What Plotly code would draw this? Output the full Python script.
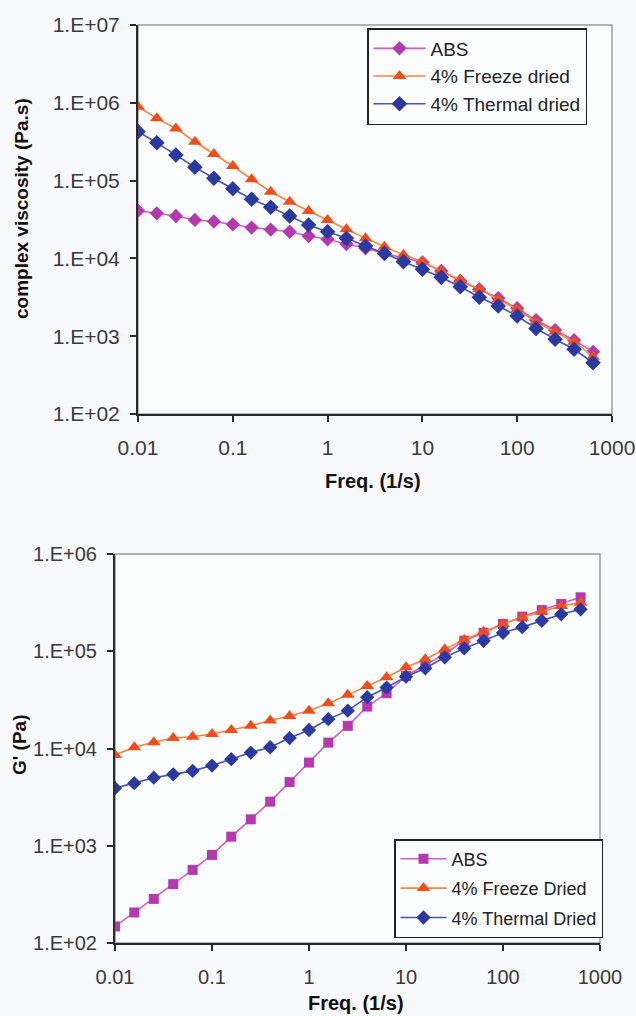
import plotly.graph_objects as go

# ---------------- data ----------------
freq = [0.01, 0.0158, 0.0251, 0.0398, 0.0631, 0.1, 0.158, 0.251, 0.398, 0.631,
        1, 1.58, 2.51, 3.98, 6.31, 10, 15.8, 25.1, 39.8, 63.1,
        100, 158, 251, 398, 631]

# complex viscosity (Pa.s)
visc_abs = [41000, 38000, 35100, 31200, 29800, 27300, 24900, 23500, 22000, 19400,
            17600, 15300, 13500, 11600, 10100, 8900, 6900, 5130, 4010, 3090,
            2290, 1610, 1200, 890, 630]
visc_freeze = [891000, 631000, 468000, 316000, 220000, 154000, 104000, 71900, 53600, 40600,
               31200, 23700, 18100, 14100, 11100, 9080, 6950, 5270, 4010, 2980,
               2220, 1530, 1140, 849, 546]
visc_thermal = [426000, 307000, 213000, 149000, 107000, 78700, 57500, 45400, 35100, 26900,
                22000, 18100, 14400, 11600, 9080, 7240, 5710, 4330, 3160, 2440,
                1820, 1260, 912, 679, 456]

# storage modulus G' (Pa)
g_abs = [148, 206, 284, 403, 565, 805, 1240, 1870, 2840, 4510,
         7160, 11500, 17100, 27000, 37000, 55700, 72300, 93800, 128500, 155000,
         191000, 227000, 265000, 306000, 359000]
g_freeze = [8590, 10300, 11600, 12800, 13200, 14100, 15500, 17100, 19400, 21600,
            24500, 29200, 35600, 44000, 54100, 68500, 82800, 105000, 131000, 159000,
            191000, 223000, 255000, 292000, 316000]
g_thermal = [3910, 4400, 5010, 5420, 5890, 6670, 7760, 9080, 10300, 12800,
             15500, 20000, 24500, 33700, 42300, 54800, 66800, 86700, 107000, 128000,
             155000, 177000, 206000, 240000, 270000]

x_tickvals = [0.01, 0.1, 1, 10, 100, 1000]
x_ticktext = ["0.01", "0.1", "1", "10", "100", "1000"]
y1_tickvals = [1e2, 1e3, 1e4, 1e5, 1e6, 1e7]
y1_ticktext = ["1.E+02", "1.E+03", "1.E+04", "1.E+05", "1.E+06", "1.E+07"]
y2_tickvals = [1e2, 1e3, 1e4, 1e5, 1e6]
y2_ticktext = ["1.E+02", "1.E+03", "1.E+04", "1.E+05", "1.E+06"]

# ---------------- style ----------------
FONT = "Arial, Liberation Sans, sans-serif"
C_ABS_M, C_ABS_L = "#B23AAE", "#CC5FC6"
C_FRZ_M, C_FRZ_L = "#EE4E1C", "#F4873C"
C_THM_M, C_THM_L = "#2C3A9F", "#4453B4"
PAPER = "#f8f9fc"
PLOT = "#fcfdff"
TICKCOL = "#3a3a3a"
W, H = 636, 1016

fig = go.Figure()

def add(x, y, name, mcol, lcol, sym, size, xa, ya, leg, grp):
    fig.add_trace(go.Scatter(
        x=x, y=y, name=name, mode="lines+markers",
        line=dict(color=lcol, width=1.6),
        marker=dict(color=mcol, symbol=sym, size=size, line=dict(width=0)),
        xaxis=xa, yaxis=ya, legend=leg, legendgroup=grp))

add(freq, visc_abs, "ABS", C_ABS_M, C_ABS_L, "diamond", 11, "x", "y", "legend", "a1")
add(freq, visc_freeze, "4% Freeze dried", C_FRZ_M, C_FRZ_L, "triangle-up", 12, "x", "y", "legend", "a2")
add(freq, visc_thermal, "4% Thermal dried", C_THM_M, C_THM_L, "diamond", 12, "x", "y", "legend", "a3")

add(freq, g_abs, "ABS", C_ABS_M, C_ABS_L, "square", 10, "x2", "y2", "legend2", "b1")
add(freq, g_freeze, "4% Freeze Dried", C_FRZ_M, C_FRZ_L, "triangle-up", 12, "x2", "y2", "legend2", "b2")
add(freq, g_thermal, "4% Thermal Dried", C_THM_M, C_THM_L, "diamond", 11, "x2", "y2", "legend2", "b3")

# pixel geometry of the two plot areas
t_l, t_r, t_t, t_b = 138, 612, 25, 414
b_l, b_r, b_t, b_b = 115, 600, 554, 943

def px_x(p):
    return p / W

def px_y(p):
    return 1 - p / H

axis_common = dict(
    type="log", showgrid=False, zeroline=False, showline=True, automargin=False,
    linecolor="#2a2a2a", linewidth=2, ticks="outside", ticklen=6,
    tickwidth=2, tickcolor="#2a2a2a",
    tickfont=dict(family=FONT, size=21, color=TICKCOL),
)

fig.update_layout(
    width=W, height=H,
    margin=dict(l=0, r=0, t=0, b=0, pad=0),
    paper_bgcolor=PAPER, plot_bgcolor=PLOT,
    font=dict(family=FONT),
    xaxis=dict(axis_common, domain=[px_x(t_l), px_x(t_r)], range=[-2, 3],
               tickvals=x_tickvals, ticktext=x_ticktext, anchor="y",
               ticklabelstandoff=8),
    yaxis=dict(axis_common, domain=[px_y(t_b), px_y(t_t)], range=[2, 7],
               tickvals=y1_tickvals, ticktext=y1_ticktext, anchor="x",
               ticklabelstandoff=6),
    xaxis2=dict(axis_common, domain=[px_x(b_l), px_x(b_r)], range=[-2, 3],
                tickvals=x_tickvals, ticktext=x_ticktext, anchor="y2",
                tickfont=dict(family=FONT, size=20, color=TICKCOL),
                ticklabelstandoff=9),
    yaxis2=dict(axis_common, domain=[px_y(b_b), px_y(b_t)], range=[2, 6],
                tickvals=y2_tickvals, ticktext=y2_ticktext, anchor="x2",
                tickfont=dict(family=FONT, size=20, color=TICKCOL),
                ticklabelstandoff=6),
    legend=dict(
        x=px_x(367), y=px_y(28), xanchor="left", yanchor="top",
        bgcolor=PLOT, bordercolor="#222222", borderwidth=1.5,
        font=dict(family=FONT, size=19, color="#222222"),
        tracegroupgap=0, itemwidth=52),
    legend2=dict(
        x=px_x(394), y=px_y(839), xanchor="left", yanchor="top",
        bgcolor=PLOT, bordercolor="#222222", borderwidth=1.5,
        font=dict(family=FONT, size=18, color="#222222"),
        tracegroupgap=3, itemwidth=46),
    showlegend=True,
)

# gray frame (top/right) of each plot area
for xr, yr in (("x domain", "y domain"), ("x2 domain", "y2 domain")):
    fig.add_shape(type="rect", xref=xr, yref=yr, x0=0, x1=1, y0=0, y1=1,
                  line=dict(color="#9a9a9a", width=1.5), layer="below")

# axis titles
fig.add_annotation(text="<b>complex viscosity (Pa.s)</b>", xref="paper", yref="paper",
                   x=px_x(22), y=px_y(209), textangle=-90, showarrow=False,
                   font=dict(family=FONT, size=19, color="#111111"),
                   xanchor="center", yanchor="middle")
fig.add_annotation(text="<b>Freq. (1/s)</b>", xref="paper", yref="paper",
                   x=px_x(373), y=px_y(481), showarrow=False,
                   font=dict(family=FONT, size=20, color="#111111"),
                   xanchor="center", yanchor="middle")
fig.add_annotation(text="<b>G' (Pa)</b>", xref="paper", yref="paper",
                   x=px_x(19), y=px_y(745), textangle=-90, showarrow=False,
                   font=dict(family=FONT, size=19, color="#111111"),
                   xanchor="center", yanchor="middle")
fig.add_annotation(text="<b>Freq. (1/s)</b>", xref="paper", yref="paper",
                   x=px_x(356), y=px_y(1003), showarrow=False,
                   font=dict(family=FONT, size=20, color="#111111"),
                   xanchor="center", yanchor="middle")

fig.write_html("out.html")
